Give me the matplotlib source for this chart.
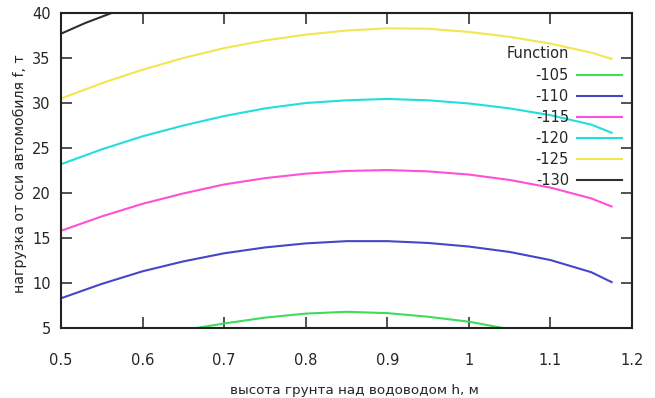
import matplotlib
matplotlib.use('Agg')
import matplotlib.pyplot as plt

# контурные линии (x: высота грунта, y: нагрузка)
x_main = [0.5, 0.55, 0.6, 0.65, 0.7, 0.75, 0.8, 0.85, 0.9, 0.95, 1.0, 1.05, 1.1, 1.15, 1.175]
y_125 = [30.5, 32.2, 33.7, 35.0, 36.1, 36.95, 37.6, 38.05, 38.3, 38.25, 37.9, 37.35, 36.6, 35.6, 34.9]
y_120 = [23.2, 24.85, 26.3, 27.5, 28.55, 29.4, 30.0, 30.3, 30.45, 30.3, 29.95, 29.4, 28.65, 27.6, 26.7]
y_115 = [15.8, 17.4, 18.8, 19.95, 20.95, 21.65, 22.15, 22.45, 22.55, 22.4, 22.05, 21.45, 20.6, 19.4, 18.5]
y_110 = [8.3, 9.9, 11.3, 12.4, 13.3, 13.95, 14.4, 14.65, 14.65, 14.45, 14.05, 13.45, 12.55, 11.2, 10.1]

x_105 = [0.666, 0.7, 0.75, 0.8, 0.85, 0.9, 0.95, 1.0, 1.042]
y_105 = [5.0, 5.5, 6.15, 6.6, 6.8, 6.65, 6.25, 5.7, 5.0]

x_130 = [0.5, 0.53, 0.562]
y_130 = [37.7, 38.9, 40.0]

levels = ['-105', '-110', '-115', '-120', '-125', '-130']
colors = ['#3ddc5a', '#4646c8', '#ff4fd8', '#22dede', '#f2e650', '#303030']

x_ticks = [0.5, 0.6, 0.7, 0.8, 0.9, 1.0, 1.1, 1.2]
x_tick_labels = ['0.5', '0.6', '0.7', '0.8', '0.9', '1', '1.1', '1.2']
y_ticks = [5, 10, 15, 20, 25, 30, 35, 40]

fig = plt.figure(figsize=(6.55, 3.98), dpi=100)
ax = fig.add_axes([0.0931, 0.1759, 0.8718, 0.7914])

series = [(x_105, y_105), (x_main, y_110), (x_main, y_115),
          (x_main, y_120), (x_main, y_125), (x_130, y_130)]
for (xs, ys), lab, c in zip(series, levels, colors):
    ax.plot(xs, ys, color=c, lw=1.5, label=lab, solid_joinstyle='round')

ax.set_xlim(0.5, 1.2)
ax.set_ylim(5, 40)
ax.set_xticks(x_ticks)
ax.set_xticklabels(x_tick_labels)
ax.set_yticks(y_ticks)

txt = '#262626'
ax.tick_params(direction='in', length=8, width=1.2, top=True, right=True,
               labelsize=10.5, colors='#333333', labelcolor=txt)
ax.tick_params(axis='x', pad=18)
ax.tick_params(axis='y', pad=7.5)
for s in ax.spines.values():
    s.set_linewidth(1.5)
    s.set_color('#222222')

ax.set_xlabel('высота грунта над водоводом h, м', fontsize=9.7, color=txt)
ax.xaxis.set_label_coords((354.5 - 61) / 571, (328 - 384) / 315)
ax.set_ylabel('нагрузка от оси автомобиля f, т', fontsize=10.2, color=txt)
ax.yaxis.set_label_coords(-(61 - 27) / 571, 0.49)

leg = ax.legend(frameon=False, markerfirst=False, fontsize=10.5,
                handlelength=3.1, handletextpad=0.55, labelspacing=0.42,
                loc='upper right', bbox_to_anchor=(628 / 655, 1 - 62 / 398),
                bbox_transform=fig.transFigure, borderaxespad=0)
for t in leg.get_texts():
    t.set_color(txt)
fig.text(569 / 655, 1 - 53 / 398, 'Function', ha='right', va='center',
         fontsize=10.5, color=txt)

plt.savefig('out.png', dpi=100)
